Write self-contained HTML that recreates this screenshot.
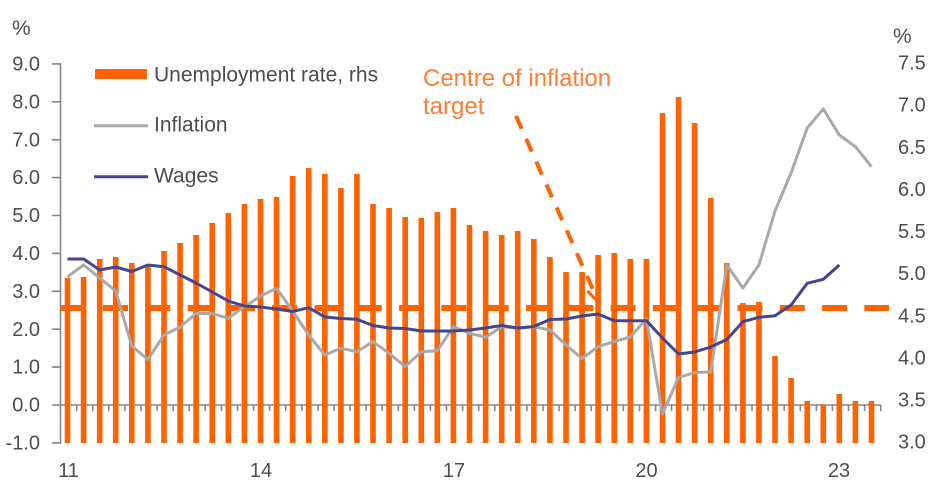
<!DOCTYPE html>
<html>
<head>
<meta charset="utf-8">
<style>
html,body{margin:0;padding:0;background:#fff;}
svg{display:block;}
text{font-family:"Liberation Sans",sans-serif;}
</style>
</head>
<body>
<svg width="936" height="489" viewBox="0 0 936 489" xmlns="http://www.w3.org/2000/svg">
<rect width="936" height="489" fill="#fff"/>
<g stroke="#858585" stroke-width="1.6" fill="none">
<path d="M60.5,63.9V443M52,63.9h9m-9,37.9h9m-9,37.9h9m-9,37.9h9m-9,37.9h9m-9,37.9h9m-9,37.9h9m-9,37.9h9m-9,37.9h9m-9,37.9h9m-9,37.9h9M60.5,405H881"/>
<path d="M76.7,405v6m16.1-6v6m16-6v6m16.1-6v6m16.1-6v6m16.1-6v6m16.1-6v6m16-6v6m16.1-6v6m16.1-6v6m16.1-6v6m16.1-6v6m16-6v6m16.1-6v6m16.1-6v6m16.1-6v6m16.1-6v6m16-6v6m16.1-6v6m16.1-6v6m16.1-6v6m16.1-6v6m16-6v6m16.1-6v6m16.1-6v6m16.1-6v6m16.1-6v6m16-6v6m16.1-6v6m16.1-6v6m16.1-6v6m16.1-6v6m16-6v6m16.1-6v6m16.1-6v6m16.1-6v6m16.1-6v6m16-6v6m16.1-6v6m16.1-6v6m16.1-6v6m16.1-6v6m16-6v6m16.1-6v6m16.1-6v6m16.1-6v6m16.1-6v6m16-6v6m16.1-6v6m16.1-6v6m16.1-6v6"/>
</g>
<path fill="#ff6200" d="M64.7,278h5.6V443h-5.6zM80.8,277h5.6V443h-5.6zM96.9,259h5.6V443h-5.6zM112.9,257h5.6V443h-5.6zM129,263h5.6V443h-5.6zM145.1,266h5.6V443h-5.6zM161.2,251h5.6V443h-5.6zM177.3,243h5.6V443h-5.6zM193.3,235h5.6V443h-5.6zM209.4,223h5.6V443h-5.6zM225.5,213h5.6V443h-5.6zM241.6,204h5.6V443h-5.6zM257.7,199h5.6V443h-5.6zM273.7,197h5.6V443h-5.6zM289.8,176h5.6V443h-5.6zM305.9,168h5.6V443h-5.6zM322,174h5.6V443h-5.6zM338.1,188h5.6V443h-5.6zM354.1,174h5.6V443h-5.6zM370.2,204h5.6V443h-5.6zM386.3,208h5.6V443h-5.6zM402.4,217h5.6V443h-5.6zM418.5,218h5.6V443h-5.6zM434.5,212h5.6V443h-5.6zM450.6,208h5.6V443h-5.6zM466.7,225h5.6V443h-5.6zM482.8,231h5.6V443h-5.6zM498.9,235h5.6V443h-5.6zM514.9,231h5.6V443h-5.6zM531,239h5.6V443h-5.6zM547.1,257h5.6V443h-5.6zM563.2,272h5.6V443h-5.6zM579.3,272h5.6V443h-5.6zM595.3,255h5.6V443h-5.6zM611.4,253h5.6V443h-5.6zM627.5,259h5.6V443h-5.6zM643.6,259h5.6V443h-5.6zM659.7,113h5.6V443h-5.6zM675.7,97h5.6V443h-5.6zM691.8,123h5.6V443h-5.6zM707.9,198h5.6V443h-5.6zM724,263h5.6V443h-5.6zM740.1,303h5.6V443h-5.6zM756.1,302h5.6V443h-5.6zM772.2,356h5.6V443h-5.6zM788.3,378h5.6V443h-5.6zM804.4,401h5.6V443h-5.6zM820.5,405h5.6V443h-5.6zM836.5,394h5.6V443h-5.6zM852.6,401h5.6V443h-5.6zM868.7,401h5.6V443h-5.6z"/>
<line x1="60.7" y1="308" x2="889" y2="308" stroke="#ff6200" stroke-width="6" stroke-dasharray="25 17.3"/>
<polyline fill="none" stroke="#a9a9a9" stroke-width="3" stroke-linejoin="round" points="67.5,276.7 83.6,265 99.7,278 115.7,291 131.8,346 147.9,359.5 164,335 180.1,327 196.1,313.5 212.2,313.5 228.3,318.3 244.4,306.7 260.5,296 276.5,288.3 292.6,311 308.7,335 324.8,355 340.9,348.3 356.9,351.7 373,341.7 389.1,353.3 405.2,366.7 421.3,351.7 437.3,350.7 453.4,326.7 469.5,333.3 485.6,337.3 501.7,326.7 517.7,328.3 533.8,326.7 549.9,330 566,345 582.1,358.5 598.1,346.7 614.2,341.5 630.3,337 646.4,319 662.5,414 678.5,377.5 694.6,372.5 710.7,372 726.8,265 742.9,288 758.9,265 775,211 791.1,173 807.2,128 823.3,109 839.3,135 855.4,146.7 871.5,166.7"/>
<polyline fill="none" stroke="#45458f" stroke-width="3" stroke-linejoin="round" points="67.5,259 83.6,259 99.7,270 115.7,267 131.8,271.5 147.9,265 164,266.7 180.1,275 196.1,283 212.2,292 228.3,301 244.4,306 260.5,307 276.5,309 292.6,311.5 308.7,307.7 324.8,317 340.9,318.5 356.9,319.3 373,325.5 389.1,328 405.2,328.5 421.3,331 437.3,331 453.4,331 469.5,330 485.6,328 501.7,325.5 517.7,328 533.8,326.5 549.9,319.5 566,319 582.1,316 598.1,314 614.2,320.7 630.3,320.7 646.4,320.7 662.5,338 678.5,354 694.6,352 710.7,347 726.8,339.5 742.9,321.7 758.9,317.3 775,315.7 791.1,305 807.2,283.3 823.3,279.3 839.3,265"/>
<line x1="516" y1="116" x2="594" y2="292" stroke="#ff6200" stroke-width="4" stroke-dasharray="14 11"/>
<polyline fill="none" stroke="#ff6200" stroke-width="3" points="587.5,291 598,302 599,287.5"/>
<rect x="95" y="69" width="52" height="10" fill="#ff6200"/>
<line x1="94" y1="125.7" x2="148" y2="125.7" stroke="#a9a9a9" stroke-width="3"/>
<line x1="94" y1="176.7" x2="148" y2="176.7" stroke="#45458f" stroke-width="3"/>
<g font-size="21" fill="#4d4d4d">
<text x="154" y="81.7">Unemployment rate, rhs</text>
<text x="154" y="131.7">Inflation</text>
<text x="154" y="182.7">Wages</text>
<text x="12" y="35">%</text>
<text x="893" y="43">%</text>
</g>
<g font-size="24" fill="#ff7d33">
<text x="423" y="86">Centre of inflation</text>
<text x="423" y="114">target</text>
</g>
<g font-size="20" fill="#4d4d4d" text-anchor="end">
<text x="40" y="70.5">9.0</text>
<text x="40" y="108.4">8.0</text>
<text x="40" y="146.3">7.0</text>
<text x="40" y="184.2">6.0</text>
<text x="40" y="222.1">5.0</text>
<text x="40" y="260">4.0</text>
<text x="40" y="297.9">3.0</text>
<text x="40" y="335.8">2.0</text>
<text x="40" y="373.7">1.0</text>
<text x="40" y="411.6">0.0</text>
<text x="40" y="449.5">-1.0</text>
</g>
<g font-size="20" fill="#4d4d4d">
<text x="898" y="69.5">7.5</text>
<text x="898" y="111.6">7.0</text>
<text x="898" y="153.8">6.5</text>
<text x="898" y="195.9">6.0</text>
<text x="898" y="238">5.5</text>
<text x="898" y="280.2">5.0</text>
<text x="898" y="322.3">4.5</text>
<text x="898" y="364.4">4.0</text>
<text x="898" y="406.6">3.5</text>
<text x="898" y="448.7">3.0</text>
</g>
<g font-size="20" fill="#4d4d4d" text-anchor="middle">
<text x="68.5" y="477">11</text>
<text x="261" y="477">14</text>
<text x="454" y="477">17</text>
<text x="646.5" y="477">20</text>
<text x="839" y="477">23</text>
</g>
</svg>
</body>
</html>
